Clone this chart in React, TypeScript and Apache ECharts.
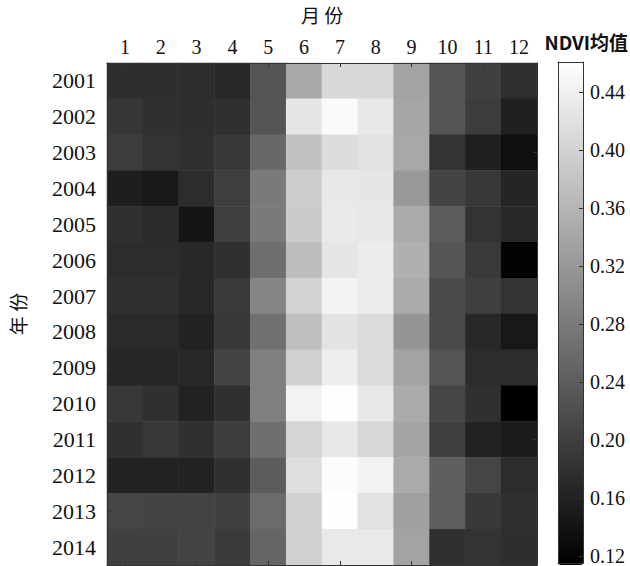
import React, { useEffect, useRef } from "react";
import * as echarts from "echarts";

const months = ["1", "2", "3", "4", "5", "6", "7", "8", "9", "10", "11", "12"];
const years = ["2001", "2002", "2003", "2004", "2005", "2006", "2007", "2008", "2009", "2010", "2011", "2012", "2013", "2014"];

const ndvi2001 = [0.177, 0.177, 0.176, 0.169, 0.230, 0.343, 0.408, 0.408, 0.336, 0.230, 0.202, 0.179];
const ndvi2002 = [0.188, 0.180, 0.177, 0.179, 0.230, 0.427, 0.454, 0.430, 0.340, 0.230, 0.196, 0.158];
const ndvi2003 = [0.196, 0.184, 0.179, 0.191, 0.256, 0.378, 0.415, 0.422, 0.343, 0.184, 0.157, 0.135];
const ndvi2004 = [0.156, 0.148, 0.175, 0.199, 0.281, 0.392, 0.430, 0.427, 0.323, 0.207, 0.191, 0.165];
const ndvi2005 = [0.180, 0.172, 0.143, 0.200, 0.281, 0.390, 0.433, 0.430, 0.346, 0.240, 0.184, 0.169];
const ndvi2006 = [0.175, 0.175, 0.169, 0.180, 0.264, 0.371, 0.427, 0.435, 0.354, 0.230, 0.194, 0.119];
const ndvi2007 = [0.180, 0.180, 0.169, 0.194, 0.295, 0.401, 0.445, 0.434, 0.347, 0.215, 0.202, 0.184];
const ndvi2008 = [0.172, 0.172, 0.161, 0.191, 0.267, 0.374, 0.423, 0.414, 0.317, 0.215, 0.169, 0.148];
const ndvi2009 = [0.167, 0.167, 0.169, 0.207, 0.289, 0.397, 0.438, 0.412, 0.338, 0.230, 0.175, 0.175];
const ndvi2010 = [0.191, 0.180, 0.161, 0.180, 0.287, 0.443, 0.460, 0.430, 0.347, 0.209, 0.180, 0.115];
const ndvi2011 = [0.180, 0.191, 0.180, 0.196, 0.266, 0.404, 0.430, 0.407, 0.339, 0.202, 0.161, 0.153];
const ndvi2012 = [0.161, 0.161, 0.161, 0.180, 0.240, 0.416, 0.457, 0.445, 0.346, 0.244, 0.209, 0.175];
const ndvi2013 = [0.209, 0.206, 0.206, 0.202, 0.260, 0.397, 0.460, 0.422, 0.332, 0.244, 0.192, 0.180];
const ndvi2014 = [0.202, 0.202, 0.206, 0.194, 0.252, 0.397, 0.431, 0.431, 0.336, 0.180, 0.184, 0.177];

const ndviRows = [
  ndvi2001, ndvi2002, ndvi2003, ndvi2004, ndvi2005, ndvi2006, ndvi2007,
  ndvi2008, ndvi2009, ndvi2010, ndvi2011, ndvi2012, ndvi2013, ndvi2014,
];

const colorbarTicks = [0.12, 0.16, 0.2, 0.24, 0.28, 0.32, 0.36, 0.4, 0.44];
const valueMin = 0.115;
const valueMax = 0.461;

const SERIF = "'Liberation Serif', 'Times New Roman', serif";
const CJK = "'Noto Sans CJK SC', sans-serif";

export default function App() {
  const ref = useRef<HTMLDivElement>(null);

  useEffect(() => {
    if (!ref.current) return;
    const chart = echarts.init(ref.current, undefined, { renderer: "svg" });

    const data: [number, number, number][] = [];
    ndviRows.forEach((row, yi) => {
      row.forEach((v, mi) => data.push([mi, yi, v]));
    });

    const lineStyle = { color: "#333", width: 1 };
    const tickStyle = { color: "#333", width: 1 };

    chart.setOption({
      animation: false,
      backgroundColor: "#fff",
      title: {
        text: "NDVI均值",
        right: 2,
        top: 32,
        padding: 0,
        textStyle: { fontFamily: CJK, fontSize: 19, fontWeight: "bold", color: "#111" },
      },
      grid: [
        { left: 103, top: 61, width: 434, height: 504 },
        { left: 558, top: 62, width: 25, height: 503 },
      ],
      xAxis: [
        {
          type: "category",
          gridIndex: 0,
          data: months,
          position: "top",
          name: "月 份",
          nameLocation: "middle",
          nameGap: 39,
          nameTextStyle: { fontFamily: CJK, fontSize: 19, color: "#111" },
          axisLine: { show: true, lineStyle },
          axisTick: { show: true, inside: true, interval: 1, alignWithLabel: true, length: 4, lineStyle: tickStyle },
          axisLabel: { fontFamily: SERIF, fontSize: 20, color: "#111", margin: 6, interval: 0 },
          splitLine: { show: false },
          z: 5,
        },
        {
          type: "category",
          gridIndex: 0,
          data: months,
          position: "bottom",
          axisLine: { show: true, lineStyle },
          axisTick: { show: true, inside: true, interval: 1, alignWithLabel: true, length: 4, lineStyle: tickStyle },
          axisLabel: { show: false },
          splitLine: { show: false },
          z: 5,
        },
        {
          type: "value",
          gridIndex: 1,
          position: "top",
          axisLine: { show: true, onZero: false, lineStyle },
          axisTick: { show: false },
          axisLabel: { show: false },
          splitLine: { show: false },
          z: 6,
        },
        {
          type: "value",
          gridIndex: 1,
          position: "bottom",
          axisLine: { show: true, onZero: false, lineStyle },
          axisTick: { show: false },
          axisLabel: { show: false },
          splitLine: { show: false },
          z: 6,
        },
      ],
      yAxis: [
        {
          type: "category",
          gridIndex: 0,
          data: years,
          inverse: true,
          position: "left",
          name: "年 份",
          nameLocation: "middle",
          nameGap: 80,
          nameRotate: 90,
          nameTextStyle: { fontFamily: CJK, fontSize: 19, color: "#111" },
          axisLine: { show: true, lineStyle },
          axisTick: { show: true, inside: true, interval: 1, alignWithLabel: true, length: 4, lineStyle: tickStyle },
          axisLabel: { fontFamily: SERIF, fontSize: 22, color: "#111", margin: 11, interval: 0 },
          splitLine: { show: false },
          z: 5,
        },
        {
          type: "category",
          gridIndex: 0,
          data: years,
          inverse: true,
          position: "right",
          axisLine: { show: true, lineStyle },
          axisTick: { show: true, inside: true, interval: 1, alignWithLabel: true, length: 4, lineStyle: tickStyle },
          axisLabel: { show: false },
          splitLine: { show: false },
          z: 5,
        },
        {
          type: "value",
          gridIndex: 1,
          position: "right",
          min: valueMin,
          max: valueMax,
          axisLine: { show: true, onZero: false, lineStyle },
          axisTick: { show: true, inside: true, length: 4, customValues: colorbarTicks, lineStyle: tickStyle },
          axisLabel: {
            show: true,
            customValues: colorbarTicks,
            formatter: (v: number) => v.toFixed(2),
            fontFamily: SERIF,
            fontSize: 20,
            color: "#111",
            margin: 7,
          },
          splitLine: { show: false },
          z: 6,
        },
        {
          type: "value",
          gridIndex: 1,
          position: "left",
          min: valueMin,
          max: valueMax,
          axisLine: { show: true, onZero: false, lineStyle },
          axisTick: { show: false },
          axisLabel: { show: false },
          splitLine: { show: false },
          z: 6,
        },
      ],
      visualMap: {
        type: "continuous",
        min: valueMin,
        max: valueMax,
        seriesIndex: 0,
        calculable: false,
        hoverLink: false,
        orient: "vertical",
        left: 558,
        top: 62,
        padding: 0,
        itemWidth: 25,
        itemHeight: 503,
        inRange: { color: ["#000000", "#ffffff"] },
      },
      series: [
        {
          type: "heatmap",
          xAxisIndex: 0,
          yAxisIndex: 0,
          data,
          itemStyle: { borderWidth: 0 },
          emphasis: { disabled: true },
          label: { show: false },
        },
      ],
    });

    return () => chart.dispose();
  }, []);

  return (
    <div
      ref={ref}
      style={{ position: "fixed", left: 0, top: 0, width: 630, height: 566, background: "#fff" }}
    />
  );
}
